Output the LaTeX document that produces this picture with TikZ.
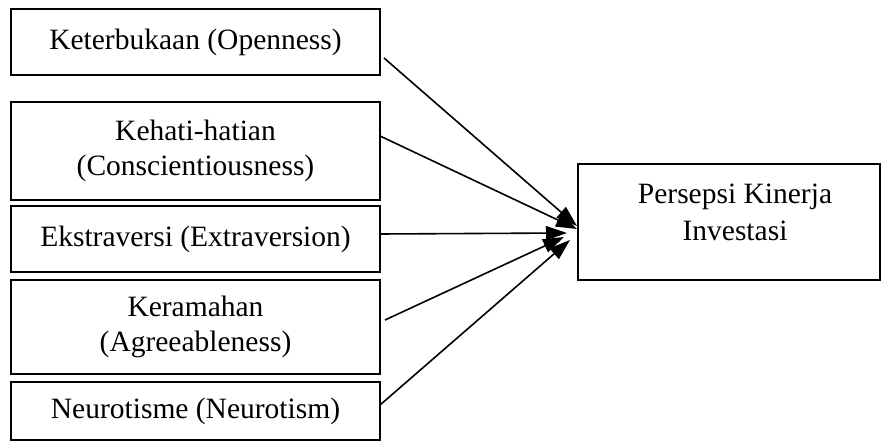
\documentclass[tikz,border=0pt]{standalone}
\usepackage{fontspec}
\setmainfont{Liberation Serif}
\usetikzlibrary{arrows.meta}
\begin{document}
\begin{tikzpicture}[x=1pt,y=-1pt,
  box/.style={draw=black, line width=1.6pt, fill=white, minimum width=369pt, align=center, inner sep=0pt, font=\fontsize{29.5}{35}\selectfont},
  arr/.style={line width=1.6pt, -{Triangle[length=21pt,width=14pt]}}]
\useasboundingbox[fill=white] (0,0) rectangle (882,446);
\node[box, minimum height=66pt] (b1) at (195.5,42) {Keterbukaan (Openness)};
\node[box, minimum height=98pt] (b2) at (195.5,151) {Kehati-hatian\\(Conscientiousness)};
\node[box, minimum height=66pt] (b3) at (195.5,239) {Ekstraversi (Extraversion)};
\node[box, minimum height=94pt] (b4) at (195.5,327) {Keramahan\\(Agreeableness)};
\node[box, minimum height=58pt] (b5) at (195.5,411) {Neurotisme (Neurotism)};
\node[box, minimum width=302pt, minimum height=116pt,
  label={[font=\fontsize{29.5}{37}\selectfont, align=center, xshift=6pt, yshift=10pt]center:Persepsi Kinerja\\Investasi}] (out) at (729,222) {};
\coordinate (s1) at (384,58);
\coordinate (s2) at (380,136);
\coordinate (s3) at (380,234);
\coordinate (s4) at (385,320);
\coordinate (s5) at (380,405);
\coordinate (t1) at (577,226);
\coordinate (t2) at (577,229);
\coordinate (t3) at (567,233);
\coordinate (t4) at (564,237);
\coordinate (t5) at (570,240);
\draw[arr] (s1) -- (t1);
\draw[arr] (s2) -- (t2);
\draw[arr] (s3) -- (t3);
\draw[arr] (s4) -- (t4);
\draw[arr] (s5) -- (t5);
\end{tikzpicture}
\end{document}
